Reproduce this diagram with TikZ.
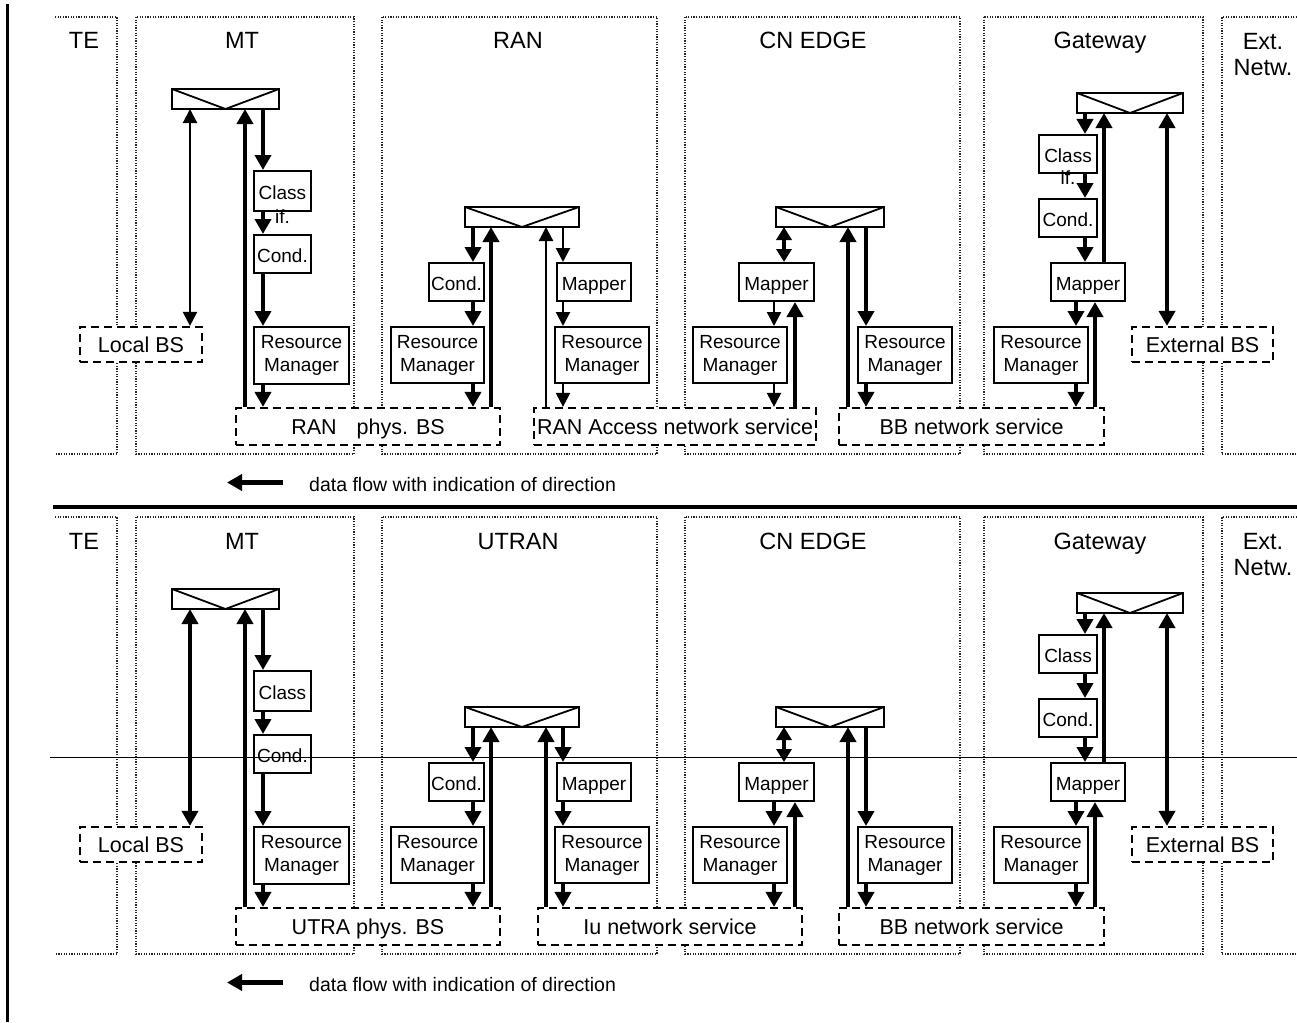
\documentclass[tikz,border=0pt]{standalone}
\usepackage{fontspec}
\setmainfont{Liberation Sans}
\usetikzlibrary{arrows.meta}
\tikzset{
 zone/.style={line width=1.2pt, black!85, dash pattern=on 1.2pt off 1.4pt},
 zlbl/.style={font=\fontsize{23.5}{26}\selectfont, inner sep=0pt},
 box/.style={draw, line width=2pt, fill=white, inner sep=1pt, font=\fontsize{19}{23}\selectfont, text height=16pt, text depth=0pt, minimum height=38pt},
 rmbox/.style={draw, line width=2pt, fill=white, inner sep=1pt, font=\fontsize{19}{23}\selectfont, align=center, minimum width=94pt, minimum height=56pt},
 dbox/.style={draw, line width=2.2pt, dash pattern=on 8pt off 5pt, fill=white, inner sep=1pt, font=\fontsize{21.5}{24}\selectfont, text height=15.4pt, text depth=0pt},
 swbox/.style={draw, line width=2pt, fill=white, minimum height=20pt, inner sep=0pt, outer sep=0pt},
 tk/.style={line width=4.5pt, >={Triangle[width=16pt,length=15pt]}},
 tn/.style={line width=2.2pt, >={Triangle[width=14pt,length=14pt]}},
 iftxt/.style={font=\fontsize{19}{23}\selectfont, inner sep=0pt},
 lgtxt/.style={font=\fontsize{19.5}{22}\selectfont, inner sep=0pt, anchor=base west},
}
% #1 prefix, #2 zone name, #3 phys text, #4 access text, #5 light arrow style, #6 access centre x, #7 access width
\newcommand\HalfDiagram[7]{%
 \draw[zone] (55,17) -- (117,17) -- (117,454) -- (55,454);
 \draw[zone] (136,17) rectangle (354,454);
 \draw[zone] (382,17) rectangle (657,454);
 \draw[zone] (685,17) rectangle (960,454);
 \draw[zone] (984,17) rectangle (1203,454);
 \draw[zone] (1297,17) -- (1222,17) -- (1222,454) -- (1297,454);
 \node[zlbl,anchor=base] (#1lte) at (84,49) {TE};
 \node[zlbl,anchor=base] (#1lmt) at (242,49) {MT};
 \node[zlbl,anchor=base] (#1lran) at (518,49) {#2};
 \node[zlbl,anchor=base] (#1lcn) at (813,49) {CN EDGE};
 \node[zlbl,anchor=base] (#1lgw) at (1100,49) {Gateway};
 \node[zlbl,anchor=north,align=center] (#1lext) at (1263,33) {Ext.\\Netw.};
 \path (190,0) coordinate (#1xa) (245,0) coordinate (#1xb) (263,0) coordinate (#1xc)
       (473,0) coordinate (#1xd) (491,0) coordinate (#1xe) (546,0) coordinate (#1xf) (563,0) coordinate (#1xg)
       (774,0) coordinate (#1xh) (784,0) coordinate (#1xi) (795,0) coordinate (#1xj) (848,0) coordinate (#1xk) (866,0) coordinate (#1xl)
       (1085,0) coordinate (#1xm) (1104,0) coordinate (#1xn) (1167,0) coordinate (#1xo) (1076,0) coordinate (#1xp) (1095,0) coordinate (#1xq);
 % MT
 \node[swbox, minimum width=107pt] (#1msw) at (225.5,99) {};
 \draw[line width=1.8pt] (#1msw.north west) -- (#1msw.south) -- (#1msw.north east);
 \node[box, minimum width=57pt, minimum height=40pt] (#1mcls) at (282.5,191) {Class};
 \node[box, minimum width=57pt] (#1mcnd) at (282.5,254) {Cond.};
 \node[rmbox, minimum width=95pt, minimum height=57pt] (#1mrm) at (301.5,355.5) {Resource\\Manager};
 \node[dbox, minimum width=122pt, minimum height=35pt] (#1lbs) at (141,344.5) {Local BS};
 \node[dbox, minimum width=264pt, minimum height=37pt] (#1pbs) at (368,426.5) {#3};
 \draw[#5,<->] (#1xa |- #1lbs.north) -- (#1xa |- #1msw.south);
 \draw[tk,->] (#1xb |- #1pbs.north) -- (#1xb |- #1msw.south);
 \draw[tk,->] (#1xc |- #1msw.south) -- (#1xc |- #1mcls.north);
 \draw[tk,->] (#1xc |- #1mcls.south) -- (#1xc |- #1mcnd.north);
 \draw[tk,->] (#1xc |- #1mcnd.south) -- (#1xc |- #1mrm.north);
 \draw[tk,->] (#1xc |- #1mrm.south) -- (#1xc |- #1pbs.north);
 % RAN
 \node[swbox, minimum width=114pt] (#1rsw) at (522,217) {};
 \draw[line width=1.8pt] (#1rsw.north west) -- (#1rsw.south) -- (#1rsw.north east);
 \node[box, minimum width=55pt] (#1rcnd) at (456.5,282) {Cond.};
 \node[rmbox, minimum width=93pt] (#1rrma) at (437.5,355) {Resource\\Manager};
 \node[box, minimum width=74pt] (#1rmap) at (594,282) {Mapper};
 \node[rmbox] (#1rrmb) at (602,355) {Resource\\Manager};
 \node[dbox, minimum width=#7, minimum height=37pt] (#1acc) at (#6,426.5) {#4};
 \draw[tk,->] (#1xd |- #1rsw.south) -- (#1xd |- #1rcnd.north);
 \draw[tk,->] (#1xd |- #1rcnd.south) -- (#1xd |- #1rrma.north);
 \draw[tk,->] (#1xd |- #1rrma.south) -- (#1xd |- #1pbs.north);
 \draw[tk,->] (#1xe |- #1pbs.north) -- (#1xe |- #1rsw.south);
 \draw[#5,->] (#1xf |- #1acc.north) -- (#1xf |- #1rsw.south);
 \draw[#5,->] (#1xg |- #1rsw.south) -- (#1xg |- #1rmap.north);
 \draw[#5,->] (#1xg |- #1rmap.south) -- (#1xg |- #1rrmb.north);
 \draw[#5,->] (#1xg |- #1rrmb.south) -- (#1xg |- #1acc.north);
 % CN EDGE
 \node[swbox, minimum width=108pt] (#1csw) at (830,217) {};
 \draw[line width=1.8pt] (#1csw.north west) -- (#1csw.south) -- (#1csw.north east);
 \node[box, minimum width=75pt] (#1cmap) at (776.5,282) {Mapper};
 \node[rmbox] (#1crma) at (740,355) {Resource\\Manager};
 \node[rmbox] (#1crmb) at (905,355) {Resource\\Manager};
 \node[dbox, minimum width=265pt, minimum height=37pt] (#1bb) at (971.5,426.5) {BB network service};
 \draw[tk,<->,>={Triangle[width=15pt,length=13pt]}] (#1xi |- #1csw.south) -- (#1xi |- #1cmap.north);
 \draw[#5,->] (#1xh |- #1cmap.south) -- (#1xh |- #1crma.north);
 \draw[#5,->] (#1xh |- #1crma.south) -- (#1xh |- #1acc.north);
 \draw[tk,->] (#1xj |- #1acc.north) -- (#1xj |- #1cmap.south);
 \draw[tk,->] (#1xk |- #1bb.north) -- (#1xk |- #1csw.south);
 \draw[tk,->] (#1xl |- #1csw.south) -- (#1xl |- #1crmb.north);
 \draw[tk,->] (#1xl |- #1crmb.south) -- (#1xl |- #1bb.north);
 % Gateway
 \node[swbox, minimum width=106pt] (#1gsw) at (1130,103) {};
 \draw[line width=1.8pt] (#1gsw.north west) -- (#1gsw.south) -- (#1gsw.north east);
 \node[box, minimum width=58pt] (#1gcls) at (1068,154) {Class};
 \node[box, minimum width=58pt] (#1gcnd) at (1068,218) {Cond.};
 \node[box, minimum width=74pt] (#1gmap) at (1088,282) {Mapper};
 \node[rmbox] (#1grm) at (1041,355) {Resource\\Manager};
 \node[dbox, minimum width=141pt, minimum height=35pt] (#1ext) at (1202.5,344.5) {External BS};
 \draw[tk,->] (#1xm |- #1gsw.south) -- (#1xm |- #1gcls.north);
 \draw[tk,->] (#1xm |- #1gcls.south) -- (#1xm |- #1gcnd.north);
 \draw[tk,->] (#1xm |- #1gcnd.south) -- (#1xm |- #1gmap.north);
 \draw[tk,->] (#1xn |- #1gmap.north) -- (#1xn |- #1gsw.south);
 \draw[tk,<->] (#1xo |- #1gsw.south) -- (#1xo |- #1ext.north);
 \draw[tk,->] (#1xp |- #1gmap.south) -- (#1xp |- #1grm.north);
 \draw[tk,->] (#1xp |- #1grm.south) -- (#1xp |- #1bb.north);
 \draw[tk,->] (#1xq |- #1bb.north) -- (#1xq |- #1gmap.south);
 % legend
 \coordinate (#1lgs) at (283,482.5);
 \coordinate (#1lge) at (227,482.5);
 \draw[tk,->] (#1lgs) -- (#1lge);
 \node[lgtxt] (#1lgt) at (309,491) {data flow with indication of direction};
}
\begin{document}
\begin{tikzpicture}[x=1pt,y=-1pt]
\useasboundingbox (0,0) rectangle (1297,1022);
\fill[white] (0,0) rectangle (1297,1022);
\draw[line width=3pt] (7,4) -- (7,1022);
\draw[line width=3.5pt] (53,507) -- (1297,507);
\HalfDiagram{t}{RAN}{RAN\hspace{20pt}phys. BS}{RAN Access network service}{tn}{675}{282pt}
\node[iftxt] (tmclsif) at ([yshift=-5pt]tmcls.south) {if.};
\node[iftxt] (tgclsif) at ([yshift=-4pt]tgcls.south) {if.};
\begin{scope}[yshift=-500pt]
\HalfDiagram{b}{UTRAN}{UTRA phys. BS}{Iu network service}{tk}{670}{264pt}
\end{scope}
\draw[line width=1pt] (50,757) -- (1297,757);
\end{tikzpicture}
\end{document}
